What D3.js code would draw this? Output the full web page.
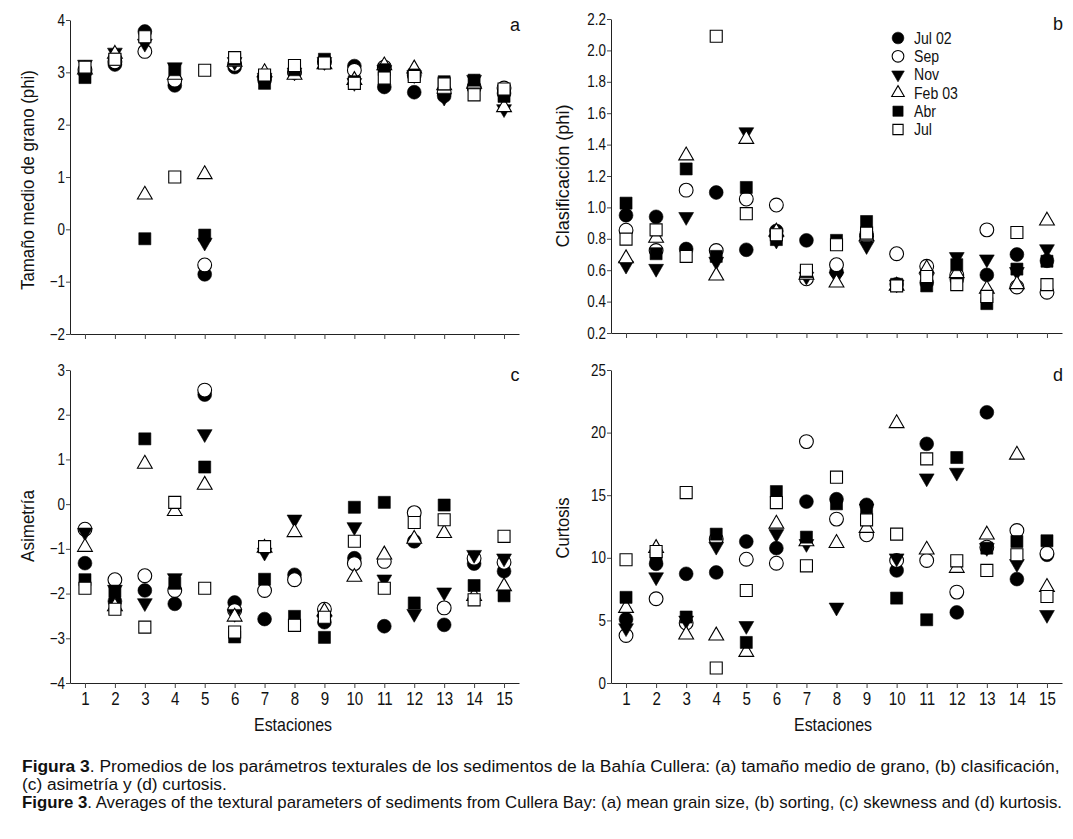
<!DOCTYPE html>
<html>
<head>
<meta charset="utf-8">
<script src="https://cdn.jsdelivr.net/npm/d3@7"></script>
<style>
  body { margin: 0; background: #fff; }
  text { font-family: "Liberation Sans Narrow", "Arial Narrow", "Liberation Sans", Arial, sans-serif; fill: #111; }
</style>
</head>
<body>
<div id="wrapper"></div>
<script>
// 1. Data
const stations = d3.range(1, 16);
const seriesNames = ["Jul 02", "Sep", "Nov", "Feb 03", "Abr", "Jul"];

// a: mean grain size (phi)
const meanJul02 = [3.0, 3.15, 3.78, 2.75, -0.86, 3.1, 2.85, 3.0, 3.2, 3.12, 2.72, 2.62, 2.55, 2.7, 2.6];
const meanSep   = [3.05, 3.2, 3.4, 2.85, -0.68, 3.15, 2.9, 3.0, 3.2, 3.04, 3.1, 2.95, 2.62, 2.72, 2.7];
const meanNov   = [3.15, 3.38, 3.55, 3.1, -0.25, 3.2, 2.9, 3.0, 3.2, 2.8, 3.05, 2.95, 2.52, 2.86, 2.3];
const meanFeb   = [3.05, 3.35, 0.66, 2.95, 1.05, 3.2, 3.0, 2.95, 3.15, 2.85, 3.13, 3.07, 2.75, 2.78, 2.33];
const meanAbr   = [2.9, 3.25, -0.18, 3.05, -0.11, 3.25, 2.79, 3.05, 3.25, 2.82, 3.05, 2.95, 2.82, 2.85, 2.54];
const meanJul   = [3.1, 3.25, 3.68, 1.0, 3.04, 3.28, 2.95, 3.13, 3.18, 2.79, 2.89, 2.92, 2.78, 2.57, 2.68];

// b: sorting (phi)
const sortJul02 = [0.95, 0.94, 0.735, 1.095, 0.73, 0.85, 0.79, 0.59, 0.83, 0.51, 0.52, 0.54, 0.57, 0.7, 0.66];
const sortSep   = [0.855, 0.725, 1.11, 0.725, 1.053, 1.015, 0.545, 0.635, 0.815, 0.705, 0.625, 0.57, 0.857, 0.493, 0.46];
const sortNov   = [0.63, 0.61, 0.94, 0.655, 1.48, 0.79, 0.56, 0.56, 0.755, 0.51, 0.55, 0.685, 0.67, 0.59, 0.735];
const sortFeb   = [0.675, 0.805, 1.33, 0.565, 1.435, 0.845, 0.57, 0.52, 0.815, 0.5, 0.61, 0.58, 0.48, 0.51, 0.915];
const sortAbr   = [1.027, 0.705, 1.245, 0.688, 1.127, 0.795, 0.59, 0.79, 0.91, 0.51, 0.5, 0.635, 0.387, 0.607, 0.657];
const sortJul   = [0.798, 0.857, 0.688, 2.09, 0.96, 0.826, 0.6, 0.762, 0.836, 0.5, 0.56, 0.508, 0.433, 0.84, 0.508];

// c: skewness
const skewJul02 = [-1.32, -2.17, -1.93, -2.23, 2.45, -2.2, -2.57, -1.58, -2.64, -1.21, -2.73, -0.83, -2.7, -1.33, -1.5];
const skewSep   = [-0.56, -1.69, -1.6, -1.93, 2.55, -2.38, -1.93, -1.69, -2.35, -1.33, -1.28, -0.19, -2.32, -1.21, -1.3];
const skewNov   = [-0.63, -1.91, -2.21, -1.65, 1.57, -2.45, -1.08, -0.34, -2.6, -0.51, -1.68, -2.45, -1.97, -1.13, -1.21];
const skewFeb   = [-0.96, -2.29, 0.9, -0.16, 0.43, -2.52, -0.98, -0.63, -2.4, -1.63, -1.13, -0.78, -0.65, -2.06, -1.84];
const skewAbr   = [-1.69, -1.95, 1.46, -1.77, 0.83, -2.97, -1.68, -2.51, -2.98, -0.07, 0.04, -2.21, -0.02, -1.82, -2.05];
const skewJul   = [-1.88, -2.35, -2.75, 0.04, -1.88, -2.86, -0.95, -2.71, -2.53, -0.83, -1.88, -0.41, -0.35, -2.14, -0.72];

// d: kurtosis
const kurtJul02 = [5.1, 9.52, 8.72, 8.83, 11.3, 10.77, 14.49, 14.68, 14.23, 8.99, 19.1, 5.64, 21.62, 8.3, 10.24];
const kurtSep   = [3.8, 6.73, 4.79, 11.5, 9.89, 9.57, 19.28, 13.09, 11.84, 9.79, 9.79, 7.26, 10.85, 12.18, 10.37];
const kurtNov   = [4.39, 8.46, 5.0, 10.9, 4.57, 11.91, 11.12, 6.04, 13.96, 9.97, 16.36, 16.81, 10.8, 9.52, 5.45];
const kurtFeb   = [5.98, 10.77, 3.86, 3.78, 2.47, 12.71, 11.3, 11.17, 12.37, 20.74, 10.64, 9.18, 11.84, 18.22, 7.66];
const kurtAbr   = [6.84, 9.84, 5.27, 11.89, 3.24, 15.29, 11.65, 14.31, 14.0, 6.78, 5.05, 18.01, 10.77, 11.3, 11.36];
const kurtJul   = [9.84, 10.5, 15.21, 1.2, 7.39, 14.41, 9.36, 16.44, 13.03, 11.89, 17.9, 9.76, 8.99, 10.24, 6.91];

const yTicksA = [-2, -1, 0, 1, 2, 3, 4];
const yTicksB = [0.2, 0.4, 0.6, 0.8, 1.0, 1.2, 1.4, 1.6, 1.8, 2.0, 2.2];
const yTicksC = [-4, -3, -2, -1, 0, 1, 2, 3];
const yTicksD = [0, 5, 10, 15, 20, 25];

// marker per series
const symbolSpecs = [
  { type: d3.symbolCircle, filled: true, rot: 0, size: 150 },
  { type: d3.symbolCircle, filled: false, rot: 0, size: 150 },
  { type: d3.symbolTriangle, filled: true, rot: 180, size: 95 },
  { type: d3.symbolTriangle, filled: false, rot: 0, size: 95 },
  { type: d3.symbolSquare, filled: true, rot: 0, size: 145 },
  { type: d3.symbolSquare, filled: false, rot: 0, size: 145 },
];

// 2. Dimensions
const dimensions = { width: 1073, height: 839 };
const narrow = 0.84; // no condensed face installed, squeeze the regular one

const panels = [
  { key: "a", left: 70, right: 519, top: 20, bottom: 334, domain: [-2, 4], ticks: yTicksA, fmt: d3.format("d"),
    title: "Tamaño medio de grano (phi)", titleX: 28, titleY: 180, titleLen: 220, xLabels: false,
    series: [meanJul02, meanSep, meanNov, meanFeb, meanAbr, meanJul] },
  { key: "b", left: 611, right: 1062, top: 19, bottom: 333, domain: [0.2, 2.2], ticks: yTicksB, fmt: d3.format(".1f"),
    title: "Clasificación (phi)", titleX: 563, titleY: 176, titleLen: 143, xLabels: false,
    series: [sortJul02, sortSep, sortNov, sortFeb, sortAbr, sortJul] },
  { key: "c", left: 70, right: 519, top: 370, bottom: 683, domain: [-4, 3], ticks: yTicksC, fmt: d3.format("d"),
    title: "Asimetría", titleX: 28, titleY: 526, titleLen: 72, xLabels: true, xTitleX: 293,
    series: [skewJul02, skewSep, skewNov, skewFeb, skewAbr, skewJul] },
  { key: "d", left: 611, right: 1062, top: 370, bottom: 683, domain: [0, 25], ticks: yTicksD, fmt: d3.format("d"),
    title: "Curtosis", titleX: 563, titleY: 528, titleLen: 61, xLabels: true, xTitleX: 833,
    series: [kurtJul02, kurtSep, kurtNov, kurtFeb, kurtAbr, kurtJul] },
];

// 3. Draw canvas
const wrapper = d3.select("#wrapper")
  .append("svg")
  .attr("width", dimensions.width)
  .attr("height", dimensions.height);

function drawSymbol(g, spec, x, y, scale) {
  g.append("path")
    .attr("d", d3.symbol().type(spec.type).size(spec.size * (scale || 1))())
    .attr("transform", `translate(${x},${y}) rotate(${spec.rot})`)
    .attr("fill", spec.filled ? "#000" : "#fff")
    .attr("stroke", "#000")
    .attr("stroke-width", spec.filled ? 0.6 : 1.1);
}

// squeeze a text element to a given length along its own direction
function fitText(t, x, y, len, rotate) {
  const w = t.node().getComputedTextLength();
  t.attr("transform", `translate(${x},${y})${rotate ? " rotate(-90)" : ""} scale(${len / w},1)`);
}

panels.forEach((p) => {
  const xScale = d3.scaleLinear().domain([0.5, 15.5]).range([p.left, p.right]);
  const yScale = d3.scaleLinear().domain(p.domain).range([p.bottom, p.top]);

  const yAxis = wrapper.append("g")
    .attr("transform", `translate(${p.left},0)`)
    .call(d3.axisLeft(yScale).tickValues(p.ticks).tickFormat(p.fmt).tickSize(4).tickSizeOuter(0).tickPadding(2));
  yAxis.selectAll("text")
    .style("font-size", "16px")
    .attr("transform", `scale(${narrow},1)`);

  const xAxis = wrapper.append("g")
    .attr("transform", `translate(0,${p.bottom})`)
    .call(d3.axisBottom(xScale).tickValues(stations).tickSize(5).tickSizeOuter(0).tickPadding(4)
      .tickFormat(p.xLabels ? d3.format("d") : ""));
  xAxis.selectAll("text")
    .style("font-size", "18px")
    .attr("transform", `scale(${narrow},1)`);

  wrapper.selectAll(".domain").attr("stroke", "#222");
  wrapper.selectAll(".tick line").attr("stroke", "#444");

  // data marks
  p.series.forEach((vals, si) => {
    const g = wrapper.append("g");
    vals.forEach((v, i) => drawSymbol(g, symbolSpecs[si], xScale(stations[i]), yScale(v)));
  });

  // y title
  const yt = wrapper.append("text")
    .attr("text-anchor", "middle")
    .attr("dy", "0.35em")
    .style("font-size", "18px")
    .text(p.title);
  fitText(yt, p.titleX, p.titleY, p.titleLen, true);

  // panel letter
  wrapper.append("text")
    .attr("x", p.right - 4)
    .attr("y", p.top + 11)
    .attr("text-anchor", "middle")
    .style("font-size", "18px")
    .text(p.key);

  if (p.xLabels) {
    const xt = wrapper.append("text")
      .attr("text-anchor", "middle")
      .attr("dy", "0.35em")
      .style("font-size", "18px")
      .text("Estaciones");
    fitText(xt, p.xTitleX, 725, 78, false);
  }
});

// legend in panel b
const legend = wrapper.append("g");
seriesNames.forEach((name, i) => {
  const y = 38 + i * 18.3;
  drawSymbol(legend, symbolSpecs[i], 898, y, 0.72);
  legend.append("text")
    .attr("dy", "0.35em")
    .attr("transform", `translate(914,${y}) scale(0.88,1)`)
    .style("font-size", "16px")
    .text(name);
});

// caption
const captionLines = [
  { bold: "Figura 3", rest: ". Promedios de los parámetros texturales de los sedimentos de la Bahía Cullera: (a) tamaño medio de grano, (b) clasificación,", y: 772, width: 1038 },
  { bold: "", rest: "(c) asimetría y (d) curtosis.", y: 790, width: 205 },
  { bold: "Figure 3", rest: ". Averages of the textural parameters of sediments from Cullera Bay: (a) mean grain size, (b) sorting, (c) skewness and (d) kurtosis.", y: 808, width: 1041 },
];
captionLines.forEach((c) => {
  const t = wrapper.append("text").style("font-size", "16px");
  if (c.bold) t.append("tspan").style("font-weight", "bold").text(c.bold);
  t.append("tspan").text(c.rest);
  fitText(t, 22, c.y, c.width, false);
});
</script>
</body>
</html>
